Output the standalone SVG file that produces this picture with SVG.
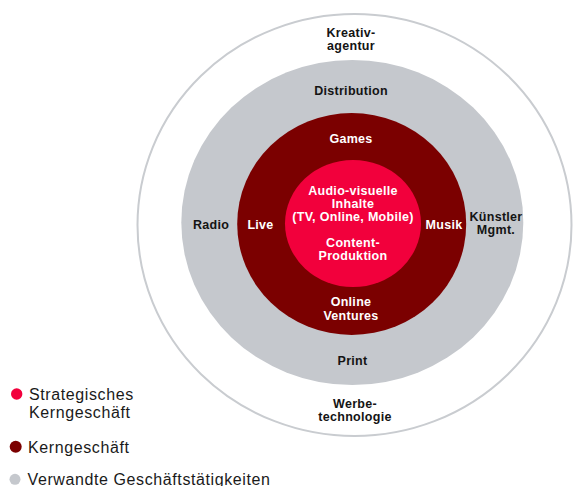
<svg xmlns="http://www.w3.org/2000/svg" width="573" height="486" viewBox="0 0 573 486">
  <style>
    .lbl { font-family: "Liberation Sans", Arial, sans-serif; font-size: 12.5px; font-weight: bold; text-anchor: middle; letter-spacing: 0.3px; }
    .dark { fill: #141414; }
    .light { fill: #ffffff; }
    .legend { font-family: "Liberation Sans", Arial, sans-serif; font-size: 16px; letter-spacing: 0.6px; fill: #1a1a1a; }
  </style>
  <rect width="573" height="486" fill="#ffffff"/>

  <!-- concentric rings -->
  <g id="ring-outer">
    <ellipse cx="354.5" cy="225" rx="217" ry="211" fill="#ffffff" stroke="#c9ccd0" stroke-width="2"/>
    <text class="lbl dark" x="351" y="36.5">Kreativ-</text>
    <text class="lbl dark" x="351" y="49.5">agentur</text>
    <text class="lbl dark" x="355" y="407.5">Werbe-</text>
    <text class="lbl dark" x="355" y="420.5">technologie</text>
  </g>

  <g id="ring-related">
    <ellipse cx="352.3" cy="222.5" rx="171" ry="162.5" fill="#c5c8cd"/>
    <text class="lbl dark" x="351" y="94.5">Distribution</text>
    <text class="lbl dark" x="211" y="228.5">Radio</text>
    <text class="lbl dark" x="496" y="221">Künstler</text>
    <text class="lbl dark" x="496" y="234">Mgmt.</text>
    <text class="lbl dark" x="352.5" y="365">Print</text>
  </g>

  <g id="ring-core">
    <ellipse cx="351.7" cy="224" rx="114.5" ry="111" fill="#7b0000"/>
    <text class="lbl light" x="351" y="143">Games</text>
    <text class="lbl light" x="260.5" y="228.5">Live</text>
    <text class="lbl light" x="444" y="228.5">Musik</text>
    <text class="lbl light" x="351" y="306">Online</text>
    <text class="lbl light" x="351" y="320">Ventures</text>
  </g>

  <g id="ring-strategic">
    <ellipse cx="353" cy="223.5" rx="68" ry="63.5" fill="#f2003c"/>
    <text class="lbl light" x="353" y="195">Audio-visuelle</text>
    <text class="lbl light" x="353" y="208">Inhalte</text>
    <text class="lbl light" x="353" y="221">(TV, Online, Mobile)</text>
    <text class="lbl light" x="353" y="247">Content-</text>
    <text class="lbl light" x="353" y="260">Produktion</text>
  </g>

  <!-- legend -->
  <g id="legend-strategic">
    <circle cx="16.7" cy="394" r="5.7" fill="#f2003c"/>
    <text class="legend" x="29" y="399.5">Strategisches</text>
    <text class="legend" x="29" y="417.5">Kerngeschäft</text>
  </g>
  <g id="legend-core">
    <circle cx="15.7" cy="446.7" r="6" fill="#7b0000"/>
    <text class="legend" x="28" y="452.7">Kerngeschäft</text>
  </g>
  <g id="legend-related">
    <circle cx="15" cy="479.3" r="5.5" fill="#c5c8cd"/>
    <text class="legend" x="27.5" y="484.5">Verwandte Geschäftstätigkeiten</text>
  </g>

  <g id="connectors"/>
</svg>
